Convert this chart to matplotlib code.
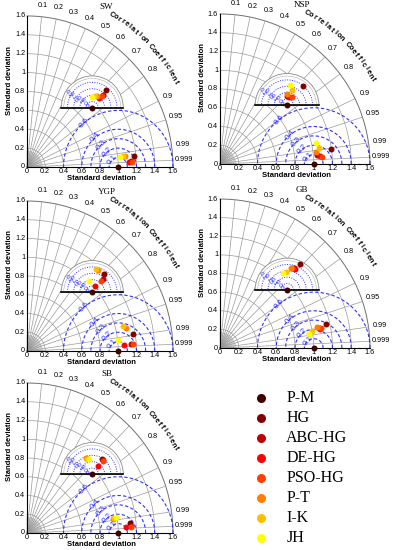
import numpy as np
import matplotlib.pyplot as plt
from matplotlib.patches import Wedge

W, H = 394, 550
fig = plt.figure(figsize=(W / 100, H / 100), dpi=100)

methods = ['P-M', 'HG', 'ABC-HG', 'DE-HG', 'PSO-HG', 'P-T', 'I-K', 'JH']
colors = ['#3f0000', '#800000', '#bf0000', '#ff0000', '#ff4000', '#ff8000', '#ffbf00', '#ffff00']

std_ticks = [0, 0.2, 0.4, 0.6, 0.8, 1.0, 1.2, 1.4, 1.6]
std_labels = ['0', '0.2', '0.4', '0.6', '0.8', '1', '1.2', '1.4', '1.6']
corr_ticks = [0.1, 0.2, 0.3, 0.4, 0.5, 0.6, 0.7, 0.8, 0.9, 0.95, 0.99, 0.999]
corr_labels = ['0.1', '0.2', '0.3', '0.4', '0.5', '0.6', '0.7', '0.8', '0.9', '0.95', '0.99', '0.999']
rms_levels = [0.1, 0.2, 0.3, 0.4, 0.6]
rms_labels = ['0.1', '0.2', '0.3', '0.4', '0.6']
zoom_levels = [0.2, 0.4, 0.6, 0.8]
zoom_labels = ['0.05', '0.1', '0.15', '0.2']

stations = ['SW', 'NSP', 'YGP', 'GB', 'SB']

# normalised standard deviation and correlation (main diagrams)
sw_std = [1.0, 1.176, 1.142, 1.121, 1.151, 1.076, 1.056, 1.026]
sw_corr = [1.0, 0.9952, 0.9984, 0.9988, 0.9991, 0.9943, 0.9943, 0.9943]
nsp_std = [1.0, 1.190, 1.035, 1.071, 1.087, 1.032, 1.074, 1.049]
nsp_corr = [1.0, 0.9913, 0.9957, 0.9965, 0.9974, 0.9920, 0.9868, 0.9761]
ygp_std = [1.0, 1.174, 1.143, 1.065, 1.163, 1.107, 1.083, 1.007]
ygp_corr = [1.0, 0.9884, 0.9978, 0.9982, 0.9977, 0.9752, 0.9691, 0.9927]
gb_std = [1.0, 1.159, 1.082, 1.090, 1.096, 1.063, 0.996, 0.962]
gb_corr = [1.0, 0.9749, 0.9800, 0.9816, 0.9811, 0.9780, 0.9838, 0.9871]
sb_std = [1.0, 1.135, 1.143, 1.082, 1.147, 0.952, 0.968, 0.990]
sb_corr = [1.0, 0.9956, 0.9978, 0.9982, 0.9984, 0.9877, 0.9863, 0.9850]

# zoomed half-disc insets (radius 1, reference at the centre)
sw_zx = [0.0, 0.44, 0.36, 0.22, 0.30, 0.16, 0.09, 0.0]
sw_zy = [0.0, 0.55, 0.42, 0.30, 0.37, 0.38, 0.37, 0.35]
nsp_zx = [0.0, 0.49, 0.0, 0.06, 0.17, 0.01, 0.17, 0.10]
nsp_zy = [0.0, 0.62, 0.28, 0.26, 0.26, 0.35, 0.47, 0.64]
ygp_zx = [0.0, 0.37, 0.36, 0.10, 0.29, 0.18, 0.11, -0.09]
ygp_zy = [0.0, 0.59, 0.42, 0.19, 0.35, 0.71, 0.75, 0.35]
gb_zx = [0.0, 0.42, 0.22, 0.24, 0.15, 0.12, -0.03, -0.14]
gb_zy = [0.0, 0.82, 0.68, 0.66, 0.69, 0.70, 0.56, 0.52]
sb_zx = [0.0, 0.33, 0.34, 0.19, 0.36, -0.20, -0.16, -0.12]
sb_zy = [0.0, 0.47, 0.45, 0.26, 0.43, 0.50, 0.49, 0.48]

panel_std = [sw_std, nsp_std, ygp_std, gb_std, sb_std]
panel_corr = [sw_corr, nsp_corr, ygp_corr, gb_corr, sb_corr]
panel_zx = [sw_zx, nsp_zx, ygp_zx, gb_zx, sb_zx]
panel_zy = [sw_zy, nsp_zy, ygp_zy, gb_zy, sb_zy]

# origin pixel (x, y from top) and pixels per unit for each panel
frames = [(27, 167, 91.25, 94.4), (220, 164, 93.75, 93.75), (27, 351, 91.25, 93.75),
          (220, 348, 93.75, 93.1), (27, 533, 91.25, 93.75)]

XMIN, XMAX, YMIN, YMAX = -0.3, 1.9, -0.2, 1.85
GRID = '#9a9a9a'
BLUE = '#3030ff'
sans = 'Liberation Sans'
serif = 'Liberation Serif'


def taylor(ax, name, std, corr, zx, zy):
    ax.set_xlim(XMIN, XMAX)
    ax.set_ylim(YMIN, YMAX)
    ax.axis('off')
    t = np.linspace(0, np.pi / 2, 200)
    for r in std_ticks[1:-1]:
        ax.plot(r * np.cos(t), r * np.sin(t), color=GRID, lw=0.5, zorder=1)
    ax.plot(1.6 * np.cos(t), 1.6 * np.sin(t), color='#707070', lw=0.7, zorder=1)
    for c in corr_ticks:
        a = np.arccos(c)
        ax.plot([0, 1.6 * np.cos(a)], [0, 1.6 * np.sin(a)], color=GRID, lw=0.5, zorder=1)
    for a in np.linspace(0, np.pi / 2, 22):
        ax.plot([0, 0.17 * np.cos(a)], [0, 0.17 * np.sin(a)], color=GRID, lw=0.35, zorder=1)
    ax.plot([0, 1.6], [0, 0], color='k', lw=0.8, zorder=2)
    ax.plot([0, 0], [0, 1.6], color='k', lw=0.8, zorder=2)

    for v, lab in zip(std_ticks, std_labels):
        ax.text(v, -0.05, lab, ha='center', va='center', fontsize=5.2, family=sans)
        ax.text(-0.02, v, lab, ha='right', va='center', fontsize=5.2, family=sans)
    for c, lab in zip(corr_ticks, corr_labels):
        a = np.arccos(c)
        ax.text(1.72 * np.cos(a), 1.72 * np.sin(a), lab, ha='center', va='center',
                fontsize=5.2, family=sans)

    word = 'Correlation Coefficient'
    angs = np.linspace(np.radians(60), np.radians(29), len(word))
    for ch, a in zip(word, angs):
        ax.text(1.86 * np.cos(a), 1.86 * np.sin(a), ch, ha='center', va='center',
                rotation=np.degrees(a) - 90, fontsize=5.3, weight='bold', family=sans)

    ax.text(0.87, 1.70, name, ha='center', va='center', fontsize=6.5, family=serif)
    ax.text(0.82, -0.125, 'Standard deviation', ha='center', va='center', fontsize=5.5,
            weight='bold', family=sans)
    ax.text(-0.19, 0.92, 'Standard deviation', ha='center', va='center', rotation=90,
            fontsize=5.5, weight='bold', family=sans)

    # centred RMS difference circles
    s = np.linspace(0, np.pi, 300)
    for r, lab in zip(rms_levels, rms_labels):
        x = 1 + r * np.cos(s)
        y = r * np.sin(s)
        keep = np.hypot(x, y) <= 1.6
        ax.plot(x[keep], y[keep], color=BLUE, lw=0.8, ls=(0, (3, 2)), zorder=3)
        b = np.radians(128)
        ax.text(1 + r * np.cos(b), r * np.sin(b), lab, color=BLUE, fontsize=5.8,
                rotation=48, ha='center', va='center', family=sans, zorder=3)

    for i in range(len(methods)):
        a = np.arccos(corr[i])
        ax.plot(std[i] * np.cos(a), std[i] * np.sin(a), 'o', color=colors[i], ms=4.3,
                mew=0, zorder=6, clip_on=False)

    # zoomed inset around the reference point
    cx, cy, R = 0.715, 0.625, 0.34
    ax.add_patch(Wedge((cx, cy), R, 0, 180, facecolor='white', edgecolor='#8a8a8a',
                       lw=0.6, zorder=7))
    ax.plot(cx + 0.92 * R * np.cos(s), cy + 0.92 * R * np.sin(s), color='#b0b0b0', lw=0.4, zorder=8)
    for f, lab in zip(zoom_levels, zoom_labels):
        ax.plot(cx + f * R * np.cos(s), cy + f * R * np.sin(s), color=BLUE, lw=0.7,
                ls=(0, (1, 1.5)), zorder=8)
        b = np.radians(150)
        ax.text(cx + (f + 0.08) * R * np.cos(b), cy + (f + 0.08) * R * np.sin(b), lab,
                color=BLUE, fontsize=4.6, rotation=-55, ha='center', va='center',
                family=sans, zorder=8)
    ax.plot([cx - R, cx + R], [cy, cy], color='k', lw=1.2, zorder=9)
    for i in range(len(methods)):
        ax.plot(cx + R * zx[i], cy + R * zy[i], 'o', color=colors[i], ms=4.3, mew=0, zorder=10)


for k, name in enumerate(stations):
    ox, oy, sx, sy = frames[k]
    left = (ox + XMIN * sx) / W
    bottom = (H - (oy - YMIN * sy)) / H
    ax = fig.add_axes([left, bottom, (XMAX - XMIN) * sx / W, (YMAX - YMIN) * sy / H])
    taylor(ax, name, panel_std[k], panel_corr[k], panel_zx[k], panel_zy[k])

# legend
lg = fig.add_axes([240 / W, (H - 548) / H, 154 / W, 160 / H])
lg.set_xlim(0, 1)
lg.set_ylim(len(methods) - 0.5, -0.5)
lg.axis('off')
for i, m in enumerate(methods):
    lg.plot(0.136, i, 'o', color=colors[i], ms=6.5, mew=0)
    lg.text(0.30, i, m, ha='left', va='center', fontsize=11.5, family=serif)

fig.savefig('out.png', dpi=100)
